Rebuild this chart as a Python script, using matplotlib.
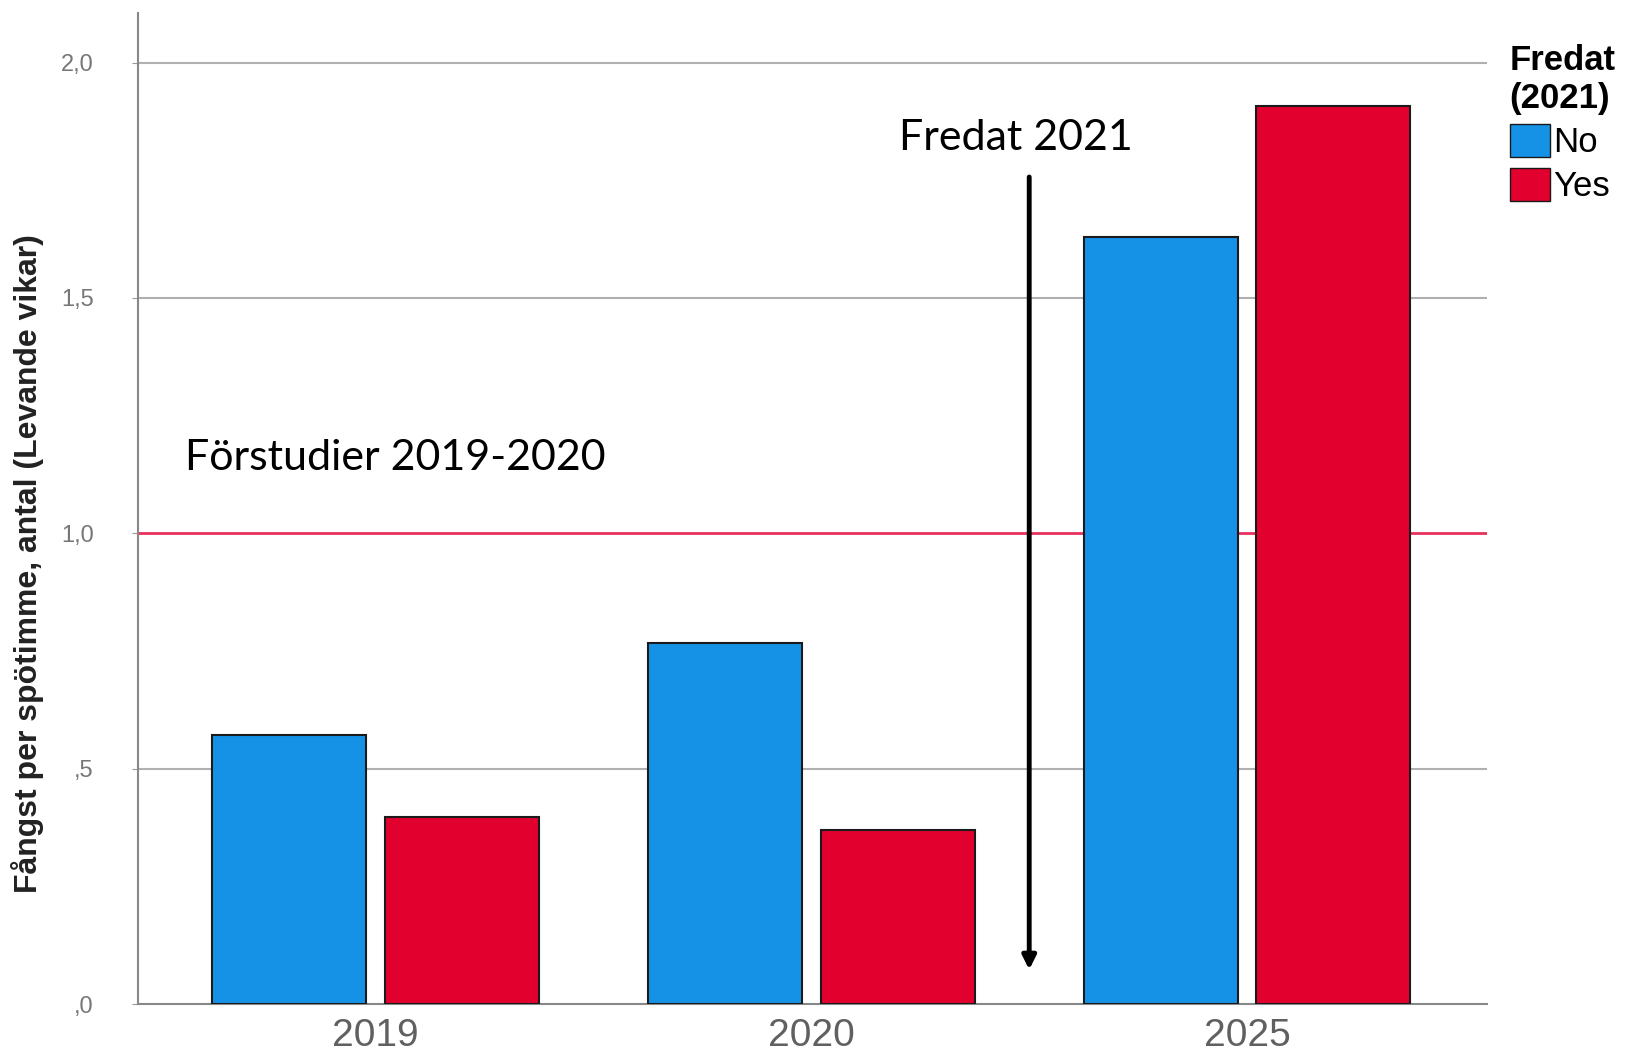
import numpy as np
import matplotlib.pyplot as plt
from matplotlib.patches import Patch

years = ['2019', '2020', '2025']
no_vals = [0.572, 0.767, 1.629]
yes_vals = [0.398, 0.369, 1.907]
ytick_vals = [0.0, 0.5, 1.0, 1.5, 2.0]
ytick_labels = [',0', ',5', '1,0', '1,5', '2,0']
ref_level = 1.0

BLUE = '#1592e6'
RED = '#e2002e'

fig = plt.figure(figsize=(16.31, 10.63), dpi=100)
ax = fig.add_axes([0.0846, 0.0555, 0.827, 0.9325])

x = np.arange(len(years))
w = 0.353
off = 0.198
ax.bar(x - off, no_vals, w, color=BLUE, edgecolor='#1a1a1a', linewidth=1.5, zorder=3)
ax.bar(x + off, yes_vals, w, color=RED, edgecolor='#1a1a1a', linewidth=1.5, zorder=3)

ax.set_xlim(-0.545, 2.55)
ax.set_ylim(0, 2.106)

for v in [0.5, 1.5, 2.0]:
    ax.axhline(v, color='#b0b0b0', linewidth=1.5, zorder=1)
ax.axhline(ref_level, color='#e8305f', linewidth=2, zorder=2)

ax.set_xticks(x)
ax.set_xticklabels(years, fontsize=28, color='#606060', family='Liberation Sans')
ax.set_yticks(ytick_vals)
ax.set_yticklabels(ytick_labels, fontsize=17, color='#777777', family='Liberation Sans')
ax.tick_params(axis='x', length=0, pad=10)
ax.tick_params(axis='y', length=4, color='#999999', pad=28)

for s in ['top', 'right']:
    ax.spines[s].set_visible(False)
for s in ['left', 'bottom']:
    ax.spines[s].set_color('#888888')
    ax.spines[s].set_linewidth(1.5)

ax.set_ylabel('Fångst per spötimme, antal (Levande vikar)', fontsize=23,
              fontweight='bold', color='#222222', family='Liberation Sans')
ax.yaxis.set_label_coords(-0.07, 0.444)

# annotations
ax.text(-0.438, 1.16, 'Förstudier 2019-2020', fontsize=31, family='Lato',
        ha='left', va='center', color='black')
ax.text(1.469, 1.839, 'Fredat 2021', fontsize=31, family='Lato',
        ha='center', va='center', color='black')
ax.annotate('', xy=(1.50, 0.073), xytext=(1.50, 1.757),
            arrowprops=dict(arrowstyle='-|>', color='black', lw=3.5,
                            mutation_scale=20, shrinkA=0, shrinkB=0))

handles = [Patch(facecolor=BLUE, edgecolor='#1a1a1a', label='No'),
           Patch(facecolor=RED, edgecolor='#1a1a1a', label='Yes')]
leg = fig.legend(handles=handles, title='Fredat\n(2021)', loc='upper left',
                 bbox_to_anchor=(0.915, 0.975), frameon=False,
                 prop={'family': 'Liberation Sans', 'size': 25},
                 handlelength=1.15, handleheight=1.1, handletextpad=0.1,
                 labelspacing=0.25, borderpad=0.0)
leg.get_title().set_fontsize(25)
leg.get_title().set_fontweight('bold')
leg.get_title().set_family('Liberation Sans')
leg._legend_box.align = 'left'

fig.savefig('out.png', dpi=100)
